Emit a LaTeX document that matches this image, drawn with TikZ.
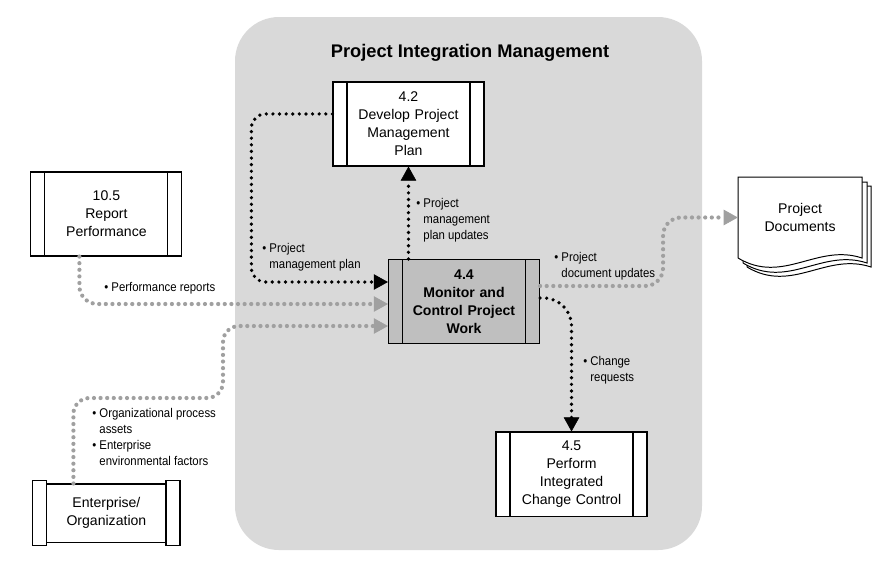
\documentclass[tikz,border=0pt]{standalone}
\usepackage{fontspec}
\setmainfont{Liberation Sans}
\newfontfamily\condfont[FakeStretch=0.9]{Liberation Sans}
\usetikzlibrary{arrows.meta, positioning}
\definecolor{panelgray}{RGB}{217,217,217}
\definecolor{boxgray}{RGB}{191,191,191}
\definecolor{flowgray}{RGB}{160,160,160}
\tikzstyle{process} = [rectangle, draw=black, line width=0.8pt, fill=white, minimum width=3.775cm, minimum height=2.1cm, text width=3.1cm, align=center, font=\fontsize{10}{12.8}\selectfont,
  path picture={\draw[line width=0.8pt] ([xshift=0.35cm]path picture bounding box.north west) -- ([xshift=0.35cm]path picture bounding box.south west);
                \draw[line width=0.8pt] ([xshift=-0.35cm]path picture bounding box.north east) -- ([xshift=-0.35cm]path picture bounding box.south east);}]
\tikzstyle{mainprocess} = [process, fill=boxgray, font=\bfseries\fontsize{10}{12.8}\selectfont]
\tikzstyle{entity} = [rectangle, draw=black, line width=0.8pt, fill=white, minimum width=3.65cm, minimum height=1.45cm, align=center, font=\fontsize{10}{12.8}\selectfont]
\tikzstyle{bullets} = [align=left, anchor=west, inner sep=0pt, font=\condfont\fontsize{9}{11.5}\selectfont]
\tikzstyle{blackflow} = [black, line width=2.6pt, dash pattern=on 0pt off 4.7pt, line cap=round, -{Triangle[length=10pt,width=11pt,line width=0.4pt]}]
\tikzstyle{grayflow} = [flowgray, line width=3pt, dash pattern=on 0pt off 4.7pt, line cap=round, -{Triangle[length=10pt,width=11pt,line width=0.4pt]}]

\begin{document}
\begin{tikzpicture}[x=0.025cm, y=0.025cm]
\useasboundingbox (0,0) rectangle (893,-568);
\fill[panelgray, rounded corners=1.1cm] (235,-17) rectangle (702,-550);
\node (title) at (470,-53) {\bfseries\fontsize{13}{15}\selectfont Project Integration Management};

\node (m44) [mainprocess] at (464,-301.5) {4.4\\Monitor and\\Control Project\\Work};
\node (d42) [process, above of=m44, node distance=4.4375cm, xshift=-1.3875cm] {4.2\\Develop Project\\Management\\Plan};
\node (c45) [process, below of=m44, node distance=4.3125cm, xshift=2.6875cm] {4.5\\Perform\\Integrated\\Change Control};
\node (r105) [process, left of=m44, node distance=8.9375cm, yshift=2.1875cm] {10.5\\Report\\Performance};
\node (ent) [entity, below of=r105, node distance=7.475cm] {Enterprise/\\Organization};
\draw[line width=0.8pt, fill=white] ([shift={(0,3)}]ent.north west) rectangle ([shift={(14,-3)}]ent.south west);
\draw[line width=0.8pt, fill=white] ([shift={(-14,3)}]ent.north east) rectangle ([shift={(0,-3)}]ent.south east);

% stacked pages
\foreach \o in {9,5,0}
  \draw[fill=white, line width=0.7pt, shift={(\o,-\o)}] (738,-258) -- (738,-177) -- (862,-177) -- (862,-258) .. controls (817,-243) and (783,-285) .. (738,-258);
\node (docs) [right of=m44, node distance=8.4cm, yshift=2.1cm, minimum width=3.1cm, minimum height=2.025cm, align=center, font=\fontsize{10}{12.8}\selectfont] {Project\\Documents};

\draw [blackflow, rounded corners=0.35cm] ([shift={(0,10)}]d42.west) -- ++(-81,0) |- ([shift={(0,19.5)}]m44.west);
\draw [blackflow] (d42.south |- m44.north) -- (d42.south);
\draw [grayflow, rounded corners=0.45cm] ([shift={(-27,0)}]r105.south) |- ([shift={(0,-2.5)}]m44.west);
\coordinate (entbend) at (223,-398);
\draw [grayflow, rounded corners=0.4cm] ([shift={(-33,0)}]ent.north) |- (entbend) |- ([shift={(0,-24.5)}]m44.west);
\draw [grayflow, rounded corners=0.45cm] ([shift={(0,15.5)}]m44.east) -- ++(123,0) |- (docs.west);
\draw [blackflow, rounded corners=0.7cm] ([shift={(0,3.5)}]m44.east) -| (c45.north);

\node (pmplbl) [bullets] at (262,-257) {\textbullet\ Project\\\phantom{\textbullet\ }management plan};
\node (pmpulbl) [bullets] at (416,-220) {\textbullet\ Project\\\phantom{\textbullet\ }management\\\phantom{\textbullet\ }plan updates};
\node (perflbl) [bullets] at (104,-288) {\textbullet\ Performance reports};
\node (entlbl) [bullets] at (92,-437) {\textbullet\ Organizational process\\\phantom{\textbullet\ }assets\\\textbullet\ Enterprise\\\phantom{\textbullet\ }environmental factors};
\node (pdulbl) [bullets] at (554,-266) {\textbullet\ Project\\\phantom{\textbullet\ }document updates};
\node (crlbl) [bullets] at (583,-370) {\textbullet\ Change\\\phantom{\textbullet\ }requests};
\end{tikzpicture}
\end{document}
